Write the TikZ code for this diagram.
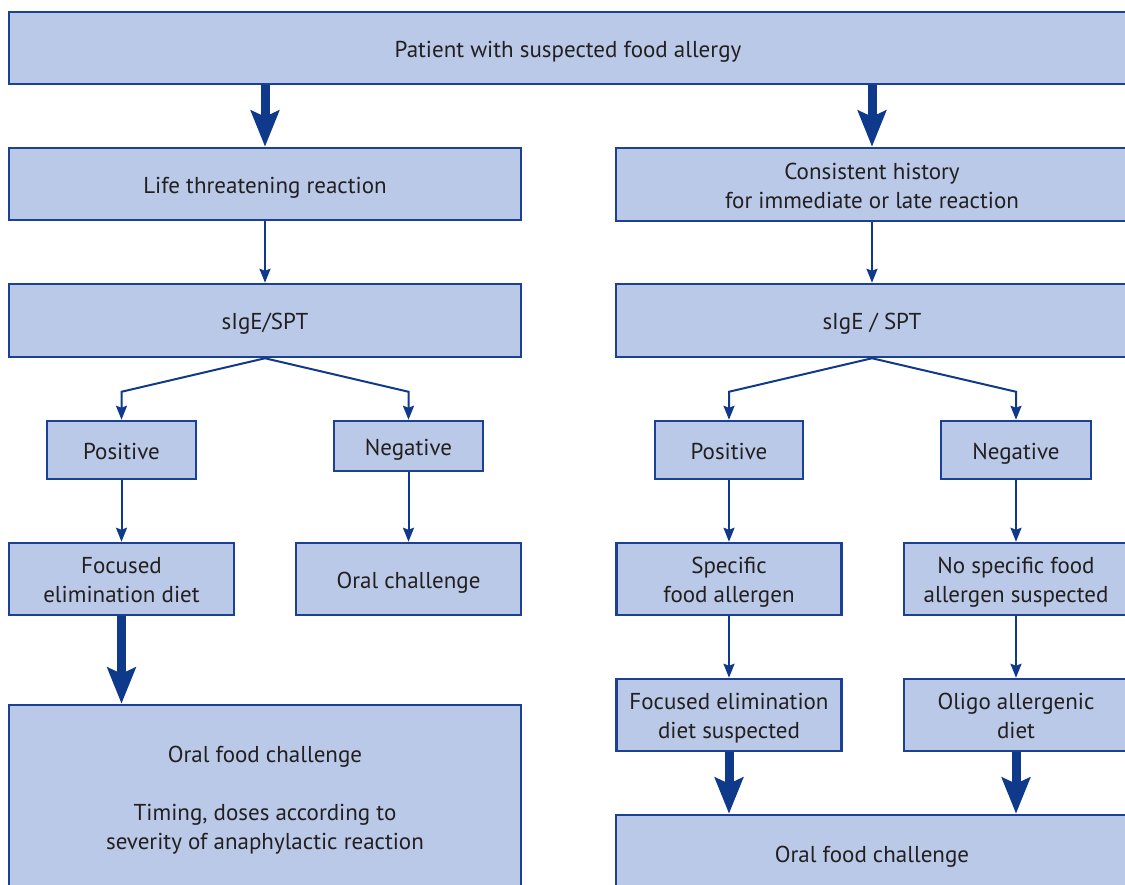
\documentclass[tikz,border=0pt]{standalone}
\usepackage{fontspec}
\setmainfont{PT Sans}
\usetikzlibrary{arrows.meta}
\definecolor{boxfill}{HTML}{B9C9E7}
\definecolor{boxline}{HTML}{1B4094}
\definecolor{arr}{HTML}{0F3A8C}
\definecolor{txt}{HTML}{231F20}
\newcommand{\firstln}{\rule{0pt}{24pt}}
\begin{document}
\begin{tikzpicture}[x=1pt,y=-1pt,
 box/.style={draw=boxline, line width=2.5pt, fill=boxfill, text=txt, align=center, inner sep=0pt, font=\fontsize{23}{29}\selectfont,
   execute at begin node={\rule{0pt}{24pt}}, execute at end node={\rule[-6pt]{0pt}{6pt}}},
 thinarrow/.style={draw=arr, line width=2pt, -{Stealth[length=14pt,width=11pt,inset=2pt]}},
 thickarrow/.style={draw=arr, line width=9pt, -{Stealth[length=36pt,width=28pt,inset=6pt]}}]
\useasboundingbox (0,0) rectangle (1125,884);
\clip (0,0) rectangle (1125,884);
\node[box, minimum width=1118pt, minimum height=72pt] (top) at (568,48) {Patient with suspected food allergy};
\node[box, minimum width=512pt, minimum height=72pt] (lt) at (265,184) {Life threatening reaction};
\node[box, minimum width=512pt, minimum height=73pt] (ch) at (872,184.5) {\firstln Consistent history\\for immediate or late reaction};
\node[box, minimum width=512pt, minimum height=73pt] (sl) at (265,320.5) {sIgE/SPT};
\node[box, minimum width=512pt, minimum height=73pt] (sr) at (872,320.5) {sIgE / SPT};
\node[box, minimum width=149pt, minimum height=58pt] (lpos) at (121.5,450) {Positive};
\node[box, minimum width=149pt, minimum height=50pt] (lneg) at (408.5,446) {Negative};
\node[box, minimum width=148pt, minimum height=58pt] (rpos) at (729,450) {Positive};
\node[box, minimum width=150pt, minimum height=58pt] (rneg) at (1016,450) {Negative};
\node[box, minimum width=225pt, minimum height=72pt] (fed) at (121.5,579) {\firstln Focused\\elimination diet};
\node[box, minimum width=225pt, minimum height=72pt] (oc) at (408.5,579) {Oral challenge};
\node[box, minimum width=225pt, minimum height=72pt] (sfa) at (729,579) {\firstln Specific\\food allergen};
\node[box, minimum width=224pt, minimum height=72pt] (nsf) at (1016,579) {\firstln No specific food\\allergen suspected};
\node[box, minimum width=225pt, minimum height=72pt] (feds) at (729,715) {\firstln Focused elimination\\diet suspected};
\node[box, minimum width=224pt, minimum height=72pt] (oad) at (1016,715) {\firstln Oligo allergenic\\diet};
\node[box, minimum width=512pt, minimum height=183pt] (ofcl) at (265,796.5) {\firstln Oral food challenge\\[29pt]Timing, doses according to\\severity of anaphylactic reaction};
\node[box, minimum width=512pt, minimum height=76pt] (ofcr) at (872,853) {Oral food challenge};
% connectors
\draw[thickarrow] (top.south -| lt.north) -- (lt.north);
\draw[thickarrow] (top.south -| ch.north) -- (ch.north);
\draw[thinarrow] (lt.south) -- (sl.north);
\draw[thinarrow] (ch.south) -- (sr.north);
\draw[thinarrow] (sl.south) -- ([yshift=28pt]lpos.north) -- (lpos.north);
\draw[thinarrow] (sl.south) -- ([yshift=28pt]lneg.north) -- (lneg.north);
\draw[thinarrow] (sr.south) -- ([yshift=28pt]rpos.north) -- (rpos.north);
\draw[thinarrow] (sr.south) -- ([yshift=28pt]rneg.north) -- (rneg.north);
\draw[thinarrow] (lpos.south) -- (fed.north);
\draw[thinarrow] (lneg.south) -- (oc.north);
\draw[thinarrow] (rpos.south) -- (sfa.north);
\draw[thinarrow] (rneg.south) -- (nsf.north);
\draw[thinarrow] (sfa.south) -- (feds.north);
\draw[thinarrow] (nsf.south) -- (oad.north);
\draw[thickarrow] (fed.south) -- (fed.south |- ofcl.north);
\draw[thickarrow] (feds.south) -- (feds.south |- ofcr.north);
\draw[thickarrow] (oad.south) -- (oad.south |- ofcr.north);
\end{tikzpicture}
\end{document}
